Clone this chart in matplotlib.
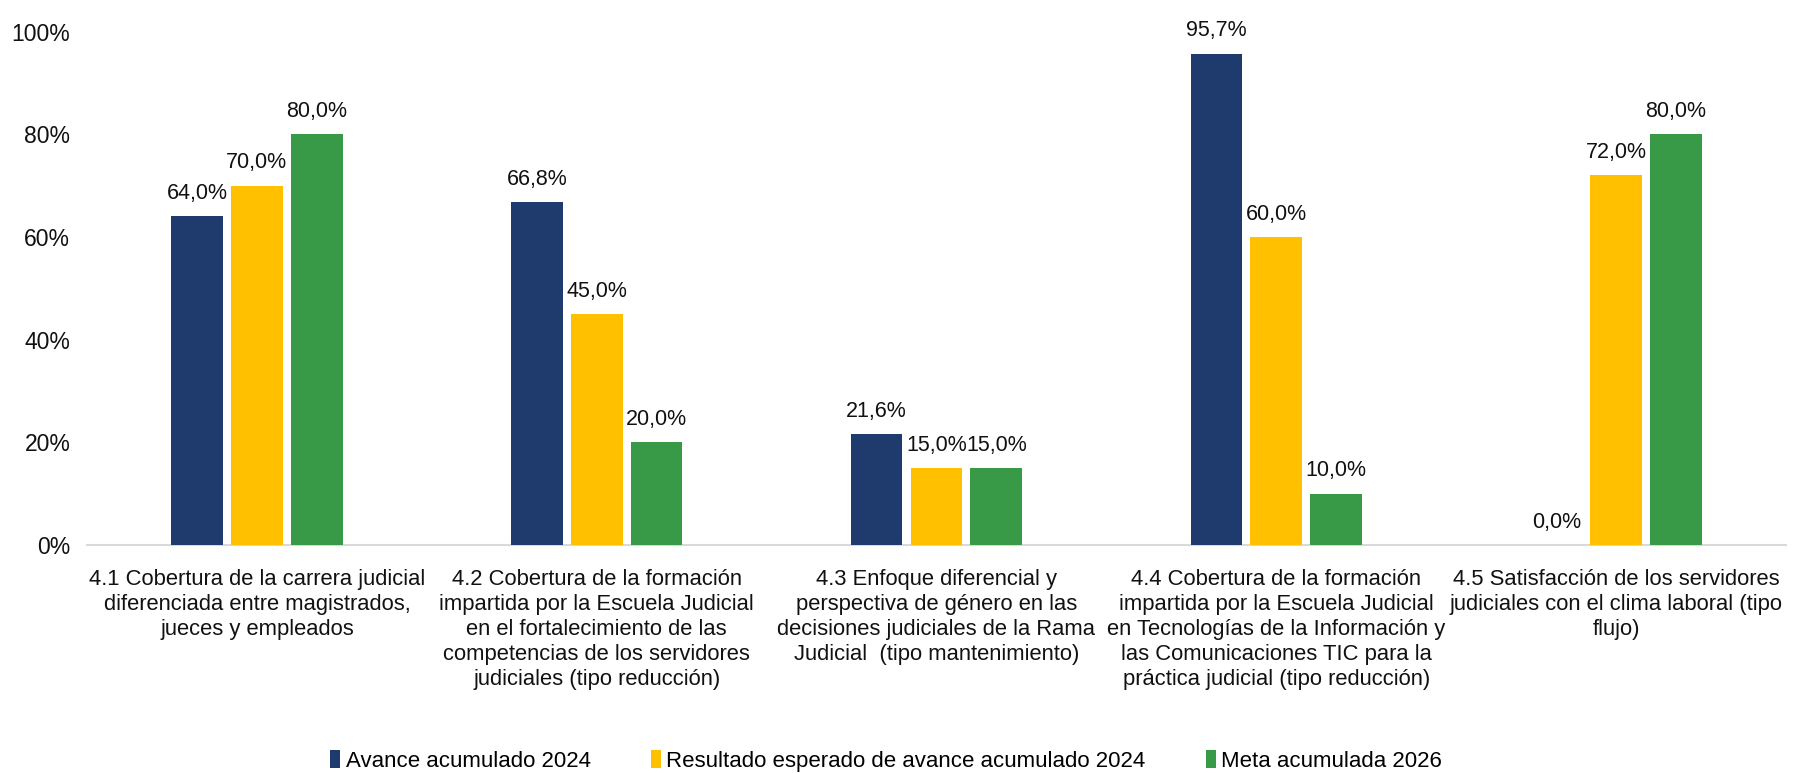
import numpy as np
import matplotlib
matplotlib.use("Agg")
import matplotlib.pyplot as plt

plt.rcParams["font.family"] = ["Liberation Sans", "DejaVu Sans"]

# ---------------------------------------------------------------------------
# Data
# ---------------------------------------------------------------------------
categories = [
    "4.1 Cobertura de la carrera judicial\ndiferenciada entre magistrados,\njueces y empleados",
    "4.2 Cobertura de la formación\nimpartida por la Escuela Judicial\nen el fortalecimiento de las\n"
    "competencias de los servidores\njudiciales (tipo reducción)",
    "4.3 Enfoque diferencial y\nperspectiva de género en las\ndecisiones judiciales de la Rama\n"
    "Judicial  (tipo mantenimiento)",
    "4.4 Cobertura de la formación\nimpartida por la Escuela Judicial\nen Tecnologías de la Información y\n"
    "las Comunicaciones TIC para la\npráctica judicial (tipo reducción)",
    "4.5 Satisfacción de los servidores\njudiciales con el clima laboral (tipo\nflujo)",
]
series_names = [
    "Avance acumulado 2024",
    "Resultado esperado de avance acumulado 2024",
    "Meta acumulada 2026",
]
avance_2024 = [64.0, 66.8, 21.6, 95.7, 0.0]
esperado_2024 = [70.0, 45.0, 15.0, 60.0, 72.0]
meta_2026 = [80.0, 20.0, 15.0, 10.0, 80.0]
y_ticks = [0, 20, 40, 60, 80, 100]

COLORS = ["#1F3B6E", "#FFC000", "#389A46"]
TXT = "#111111"

# ---------------------------------------------------------------------------
# Plot
# ---------------------------------------------------------------------------
fig = plt.figure(figsize=(17.94, 7.73), dpi=100)
ax = fig.add_axes([0.0485, 0.295, 0.947, 0.664])

x = np.arange(len(categories))
step = 0.176
width = 0.152
for i, (vals, name) in enumerate(zip([avance_2024, esperado_2024, meta_2026], series_names)):
    pos = x + (i - 1) * step
    ax.bar(pos, vals, width, color=COLORS[i], label=name, zorder=3)
    for xb, v in zip(pos, vals):
        ax.text(xb, v + 2.4, f"{v:.1f}%".replace(".", ","), ha="center", va="bottom",
                fontsize=15.5, color=TXT, clip_on=False)

ax.set_xlim(-0.5, len(categories) - 0.5)
ax.set_ylim(0, 100)
ax.set_yticks(y_ticks)
ax.set_yticklabels([f"{t}%" for t in y_ticks], fontsize=16.5, color=TXT)
ax.set_xticks(x)
ax.set_xticklabels(categories, fontsize=15.8, color=TXT, linespacing=1.26)
ax.tick_params(axis="both", length=0)
ax.tick_params(axis="x", pad=17)
ax.tick_params(axis="y", pad=12)

for s in ["top", "right", "left"]:
    ax.spines[s].set_visible(False)
ax.spines["bottom"].set_color("#d9d9d9")
ax.spines["bottom"].set_linewidth(1.5)

fig.legend(loc="lower center", bbox_to_anchor=(0.494, -0.024), ncol=3, frameon=False,
           fontsize=16, handlelength=0.45, handleheight=0.9, handletextpad=0.25,
           columnspacing=2.7)

fig.savefig("out.png", dpi=100, facecolor="white")
